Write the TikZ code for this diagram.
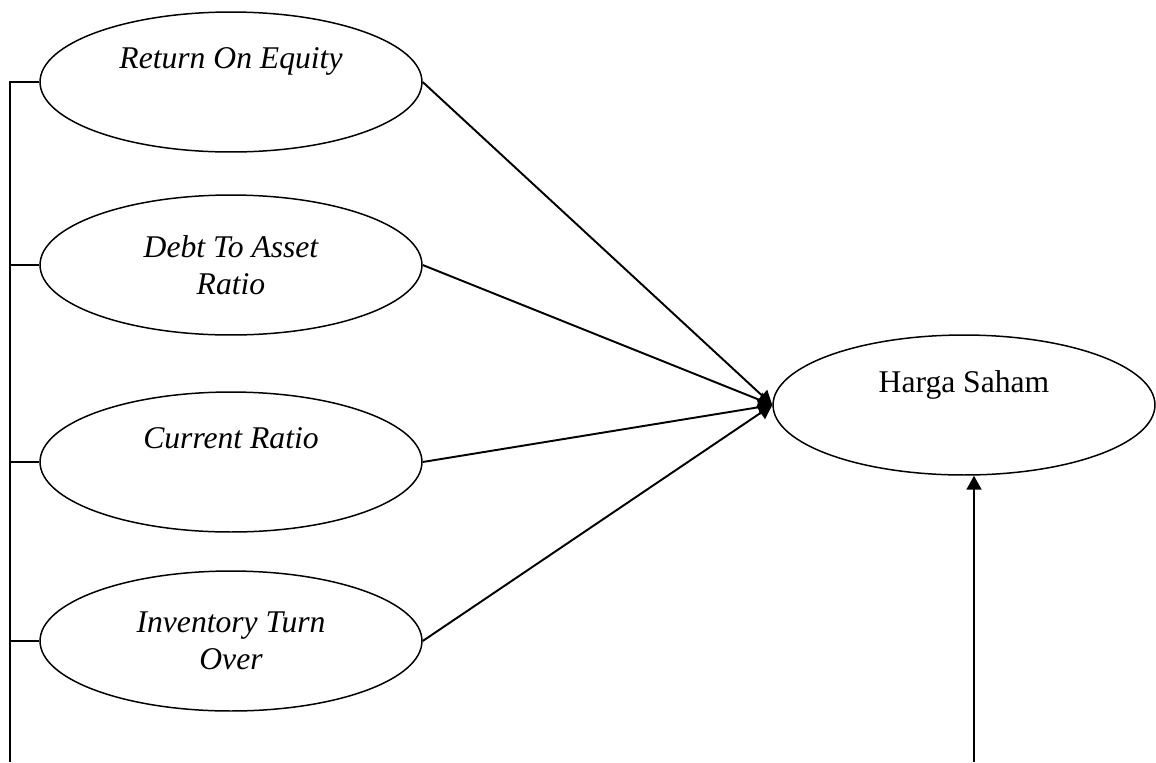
\documentclass[tikz,border=0pt]{standalone}
\usepackage{fontspec}
\setmainfont{Liberation Serif}
\usetikzlibrary{arrows.meta,shapes.geometric}
\tikzset{
	varbox/.style={draw, ellipse, line width=0.85pt, minimum width=7.64cm, minimum height=2.8cm, align=center, font=\fontsize{18}{21}\selectfont},
	link/.style={line width=1.1pt},
	linkarrow/.style={line width=1.1pt, -{Triangle[length=0.28cm, width=0.3cm]}}
}

\begin{document}
\begin{tikzpicture}[x=0.02cm, y=-0.02cm]
			%%%%% START %%%%%
			\useasboundingbox (0, 0) rectangle (1156, 762);
			
			\node[varbox] (roe) at (231, 82) {\itshape Return On Equity\\\strut};
			\node[varbox] (dar) at (231, 265) {\itshape Debt To Asset\\\itshape Ratio};
			\node[varbox] (cr) at (231, 462) {\itshape Current Ratio\\\strut};
			\node[varbox] (ito) at (231, 641) {\itshape Inventory Turn\\\itshape Over};
			
			\node[varbox] (harga) at (964, 405) {Harga Saham\\\strut};
			
			\coordinate (busend) at (10, 762);
			\coordinate (src) at (974, 762);
			
			\draw[link] (roe.west) -| (busend);
			\draw[link] (dar.west) -- (dar.west -| busend);
			\draw[link] (cr.west) -- (cr.west -| busend);
			\draw[link] (ito.west) -- (ito.west -| busend);
			
			\draw[linkarrow] (roe.east) -- (harga.west);
			\draw[linkarrow] (dar.east) -- (harga.west);
			\draw[linkarrow] (cr.east) -- (harga.west);
			\draw[linkarrow] (ito.east) -- (harga.west);
			
			\draw[linkarrow] (src) -- (harga.south -| src);
			%%%%% END %%%%%
		\end{tikzpicture}
\end{document}
